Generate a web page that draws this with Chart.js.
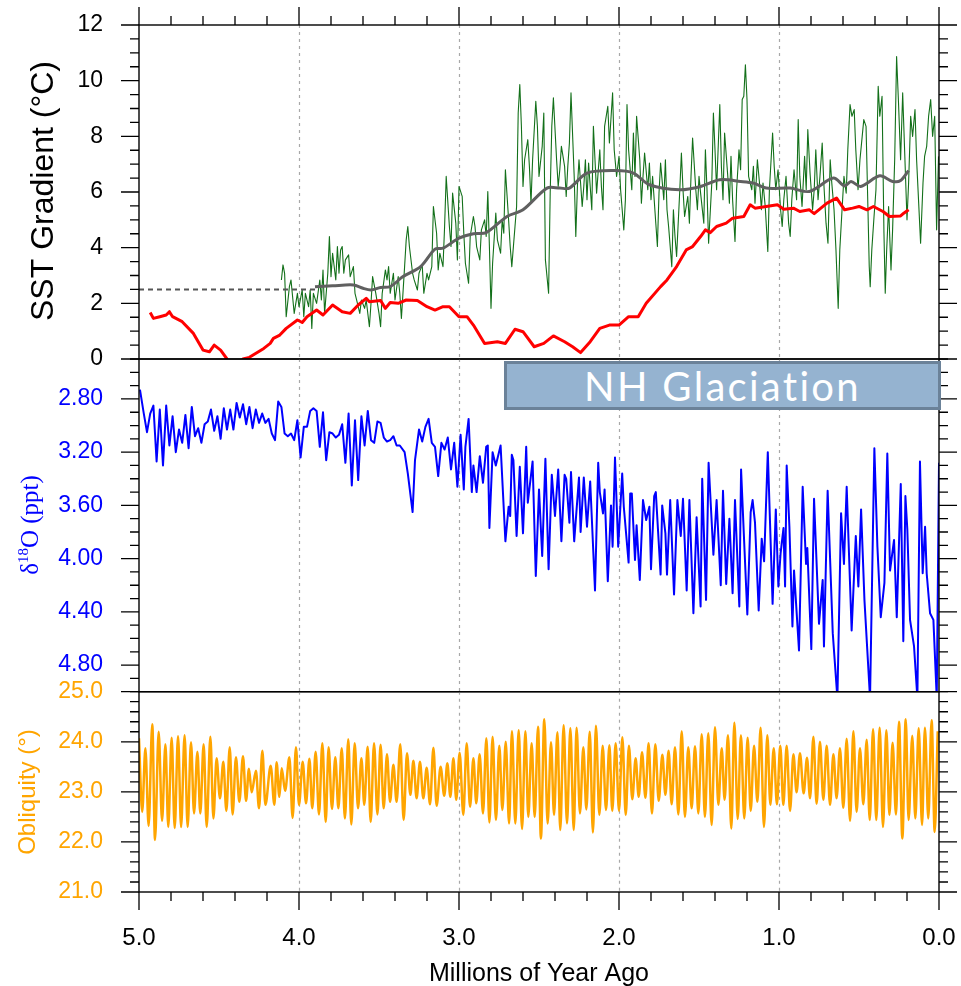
<!DOCTYPE html>
<html>
<head>
<meta charset="utf-8">
<title>SST gradient, d18O and obliquity, 5 Ma to present</title>
<script src="https://cdn.jsdelivr.net/npm/chart.js@4.4.1/dist/chart.umd.min.js"></script>
<style>
  html, body { margin: 0; padding: 0; background: #fff; }
  #page { position: relative; width: 961px; height: 986px; overflow: hidden; }
  #page canvas { position: absolute; left: 0; }
  #nh {
    position: absolute; left: 504px; top: 361px; width: 431px; height: 43px;
    border: 3px solid #6b8299; background: #95b3d0; color: #fff;
    font: 40px Lato, "Open Sans", sans-serif; letter-spacing: 2.3px;
    text-align: center; line-height: 45px; z-index: 5;
  }
</style>
</head>
<body>
<div id="page">
  <canvas id="sstChart" width="961" height="372" style="top:0px"></canvas>
  <canvas id="d18oChart" width="961" height="352" style="top:348px"></canvas>
  <canvas id="oblChart" width="961" height="316" style="top:670px"></canvas>
  <div id="nh">NH Glaciation</div>
</div>
<script>
// --- tick labels ---
const ageTicks = [5, 4, 3, 2, 1, 0];
const sstTicks = [0, 2, 4, 6, 8, 10, 12];
const d18oTicks = [2.8, 3.2, 3.6, 4.0, 4.4, 4.8];
const oblTicks = [21, 22, 23, 24, 25];

// --- SST gradient (top panel), ages in Ma ---
const redAge = [4.93,4.91,4.87,4.83,4.81,4.79,4.73,4.66,4.60,4.56,
  4.53,4.49,4.45,4.42,4.38,4.35,4.31,4.22,4.18,4.16,
  4.12,4.08,4.01,3.98,3.95,3.89,3.85,3.79,3.73,3.68,
  3.63,3.58,3.56,3.49,3.46,3.43,3.38,3.33,3.26,3.20,
  3.15,3.10,3.06,3.00,2.95,2.91,2.84,2.76,2.71,2.65,
  2.60,2.53,2.47,2.41,2.34,2.29,2.24,2.18,2.12,2.06,
  2.00,1.94,1.88,1.83,1.74,1.70,1.64,1.58,1.54,1.49,
  1.46,1.43,1.39,1.33,1.29,1.22,1.18,1.15,1.08,1.01,
  0.97,0.91,0.87,0.81,0.78,0.70,0.64,0.59,0.54,0.50,
  0.45,0.41,0.35,0.31,0.24,0.22,0.19];
const redSst = [1.67,1.46,1.52,1.58,1.70,1.52,1.34,0.92,0.32,0.26,
  0.50,0.32,0.00,-0.30,-0.30,0.00,0.06,0.38,0.56,0.74,
  0.86,1.10,1.40,1.31,1.52,1.76,1.58,1.94,1.70,1.64,
  1.94,2.18,2.06,2.10,1.82,2.03,2.00,2.12,2.10,1.88,
  1.76,1.88,1.88,1.52,1.52,1.22,0.56,0.62,0.56,1.07,
  0.98,0.44,0.56,0.83,0.62,0.44,0.23,0.62,1.10,1.22,
  1.22,1.52,1.52,2.00,2.60,2.84,3.32,3.92,4.04,4.40,
  4.64,4.54,4.76,4.88,5.06,5.12,5.54,5.42,5.48,5.54,
  5.38,5.42,5.30,5.36,5.22,5.60,5.78,5.36,5.42,5.48,
  5.36,5.48,5.30,5.12,5.14,5.24,5.36];

const grayAge = [3.90,3.79,3.66,3.60,3.55,3.49,3.43,3.35,3.24,3.15,
  3.10,3.00,2.91,2.83,2.70,2.60,2.45,2.37,2.31,2.20,
  2.02,1.91,1.81,1.62,1.49,1.37,1.24,1.16,1.08,0.93,
  0.81,0.66,0.59,0.55,0.49,0.37,0.29,0.24,0.19];
const graySst = [2.60,2.63,2.66,2.54,2.48,2.57,2.60,2.96,3.32,3.95,
  3.98,4.34,4.50,4.54,5.12,5.36,6.14,6.14,6.14,6.68,
  6.77,6.68,6.26,6.08,6.20,6.44,6.38,6.32,6.14,6.14,
  6.02,6.50,6.22,6.38,6.20,6.58,6.38,6.41,6.77];

const dashAge = [5.0, 3.90];
const dashSst = [2.5, 2.5];

const greenAge = [4.11,4.10,4.09,4.08,4.06,4.05,4.03,4.01,4.00,3.98,
  3.97,3.96,3.94,3.93,3.92,3.91,3.89,3.87,3.86,3.85,
  3.84,3.82,3.81,3.80,3.79,3.77,3.76,3.75,3.74,3.73,
  3.72,3.71,3.69,3.68,3.66,3.65,3.64,3.62,3.61,3.59,
  3.58,3.56,3.55,3.54,3.52,3.50,3.49,3.48,3.46,3.45,
  3.44,3.43,3.41,3.40,3.38,3.37,3.36,3.34,3.33,3.32,
  3.31,3.29,3.28,3.26,3.25,3.23,3.22,3.20,3.19,3.17,
  3.16,3.14,3.13,3.12,3.10,3.09,3.08,3.06,3.05,3.04,
  3.02,3.01,3.00,2.98,2.97,2.96,2.94,2.93,2.91,2.90,
  2.89,2.87,2.86,2.84,2.83,2.82,2.81,2.80,2.79,2.77,
  2.76,2.74,2.73,2.72,2.71,2.69,2.68,2.67,2.65,2.64,
  2.63,2.62,2.61,2.60,2.59,2.57,2.56,2.55,2.54,2.52,
  2.51,2.50,2.48,2.47,2.46,2.44,2.43,2.42,2.41,2.39,
  2.38,2.37,2.36,2.34,2.33,2.32,2.31,2.30,2.28,2.27,
  2.26,2.25,2.23,2.22,2.21,2.20,2.19,2.17,2.16,2.15,
  2.14,2.12,2.11,2.10,2.09,2.07,2.06,
  2.04,2.03,2.015,2.00,1.99,1.97,1.96,1.95,1.94,1.92,
  1.91,1.90,1.89,1.87,1.86,1.85,1.84,1.82,1.81,1.80,
  1.79,1.77,1.76,1.75,1.74,1.72,1.71,1.70,1.69,1.67,
  1.66,1.65,1.64,1.62,1.61,1.60,1.59,1.57,1.56,1.55,
  1.54,1.52,1.51,1.50,1.49,1.47,1.46,1.45,1.44,1.42,
  1.41,1.40,1.39,1.37,1.36,1.35,1.34,1.32,1.31,1.30,
  1.29,1.275,1.265,1.25,1.24,1.23,1.22,1.21,1.20,1.19,
  1.17,1.16,1.15,1.135,1.12,1.11,1.10,1.086,1.07,1.06,
  1.04,1.03,1.02,1.006,0.99,0.98,0.97,0.956,0.94,0.93,
  0.92,0.906,0.89,0.88,0.87,0.856,0.84,0.83,0.82,0.806,
  0.79,0.78,0.77,0.756,0.744,0.73,0.72,0.706,0.694,0.68,
  0.67,0.656,0.644,0.63,0.62,0.606,0.594,0.58,0.57,0.556,
  0.544,0.53,0.52,0.506,0.494,0.48,0.47,0.456,0.444,0.436,
  0.43,0.42,0.406,0.394,0.38,0.37,0.356,0.344,0.336,0.327,
  0.315,0.30,0.29,0.277,0.265,0.253,0.24,0.227,0.215,0.20,
  0.19,0.177,0.165,0.15,0.14,0.127,0.115,0.10,0.09,0.077,
  0.065,0.052,0.04,0.027,0.015,0.003];
const greenSst = [2.84,3.38,3.08,1.52,2.60,2.84,1.64,2.36,1.88,2.48,
  1.52,2.36,1.88,2.48,1.10,2.36,2.00,2.84,2.12,3.20,
  1.64,3.08,4.40,2.96,3.80,2.84,4.04,3.08,3.92,4.04,
  3.08,3.56,3.74,2.96,3.32,2.36,2.12,1.64,2.12,1.82,
  2.12,1.16,2.00,2.96,2.36,1.64,1.16,2.36,3.20,2.84,
  3.32,2.36,3.08,2.12,2.96,2.36,1.46,3.32,4.28,4.76,
  4.04,3.08,2.84,2.48,3.08,3.38,2.36,3.08,2.84,3.32,
  5.48,4.52,3.20,3.80,3.32,4.76,6.56,4.76,4.04,5.96,
  4.88,3.56,6.20,5.84,4.52,3.44,2.72,4.40,5.12,4.76,
  4.04,3.56,4.64,5.00,4.40,6.02,4.04,1.82,3.44,5.24,
  4.28,3.80,5.00,4.52,6.80,5.00,4.04,3.32,4.76,5.48,
  8.84,9.86,8.36,6.20,7.16,7.88,6.92,5.60,7.16,9.26,
  8.36,6.56,7.64,8.84,3.56,2.36,5.96,8.36,9.38,7.16,
  6.20,6.80,7.64,6.92,5.84,6.92,7.76,9.56,6.56,4.40,
  6.20,7.16,5.48,6.20,7.16,5.72,7.04,5.36,8.36,7.16,
  5.96,7.52,6.20,5.36,8.36,9.08,7.76,
  9.56,7.52,6.56,7.28,6.08,4.64,5.72,9.14,7.52,6.08,
  8.12,6.56,8.72,7.16,5.60,6.56,7.40,6.08,7.04,5.72,
  6.56,4.88,4.04,5.96,7.04,5.72,7.16,5.36,4.76,3.32,
  5.36,4.40,3.68,6.08,7.40,6.08,5.12,5.84,4.88,6.56,
  7.94,6.08,5.36,6.56,5.96,4.88,7.52,6.08,4.16,6.32,
  8.84,7.52,6.08,9.14,6.92,5.72,8.12,6.56,5.60,7.28,
  5.72,4.22,6.08,7.52,6.80,9.32,9.44,10.57,9.32,6.56,
  6.08,6.92,5.60,7.16,6.20,5.36,6.32,5.48,3.86,6.08,
  8.12,6.92,6.08,6.80,5.36,4.76,5.72,6.56,4.88,4.40,
  5.72,6.80,5.72,8.60,6.56,5.48,7.28,6.08,8.24,6.68,
  5.36,6.08,7.52,5.72,6.56,7.76,6.32,4.88,4.16,7.16,
  6.32,5.36,3.92,1.82,3.92,5.36,6.56,5.96,7.52,9.14,
  8.72,8.96,7.52,6.08,7.16,8.00,8.60,8.36,5.36,3.32,
  2.60,3.92,5.12,6.08,9.80,8.72,9.44,4.52,2.36,3.92,
  5.48,3.20,4.64,7.16,10.87,9.20,7.16,9.56,7.52,5.00,
  6.32,8.72,8.00,8.96,7.16,5.60,4.16,6.32,7.28,7.64,
  8.72,9.32,8.00,8.72,4.64,7.28];

// --- benthic d18O (middle panel) ---
const d18oAge = [4.994,4.97,4.95,4.93,4.91,4.89,4.87,4.85,4.83,4.81,
  4.79,4.77,4.75,4.73,4.71,4.69,4.67,4.65,4.63,4.61,
  4.59,4.57,4.55,4.53,4.51,4.49,4.47,4.45,4.43,4.41,
  4.39,4.37,4.35,4.33,4.31,4.29,4.27,4.25,4.23,4.21,
  4.19,4.17,4.15,4.13,4.11,4.09,4.07,4.05,4.03,4.01,
  3.99,3.97,3.95,3.93,3.91,3.89,3.87,3.85,3.83,3.81,
  3.79,3.77,3.75,3.73,3.71,3.69,3.67,3.65,3.63,3.61,
  3.59,3.57,3.55,3.53,3.51,3.49,3.47,3.45,3.43,3.41,
  3.39,3.37,3.34,3.32,3.29,3.275,3.25,3.23,3.21,3.19,
  3.17,3.15,3.13,3.11,3.09,3.07,3.05,3.03,3.01,2.99,
  2.97,2.96,2.94,2.92,2.91,2.89,2.87,2.85,2.83,2.82,
  2.81,2.79,2.77,2.74,2.71,2.69,2.68,2.67,2.66,2.64,
  2.62,2.60,2.58,2.57,2.54,2.52,2.50,2.48,2.46,2.44,
  2.42,2.40,2.38,2.36,2.34,2.33,2.31,2.30,2.28,2.25,
  2.24,2.22,2.20,2.18,2.15,2.13,2.12,2.10,2.09,2.07,
  2.05,2.04,2.025,2.005,1.98,1.97,1.94,1.93,1.92,1.90,
  1.89,1.87,1.85,1.83,1.81,1.80,1.78,1.77,1.74,1.73,
  1.71,1.70,1.68,1.656,1.635,1.614,1.60,1.577,1.56,1.535,
  1.515,1.49,1.48,1.456,1.44,1.41,1.39,1.364,1.35,1.33,
  1.31,1.29,1.275,1.248,1.237,1.22,1.198,1.177,1.165,1.15,
  1.127,1.108,1.093,1.07,1.04,1.02,1.004,0.99,0.972,0.962,
  0.952,0.935,0.916,0.906,0.875,0.852,0.831,0.823,0.798,0.781,
  0.75,0.727,0.719,0.696,0.664,0.635,0.612,0.594,0.577,0.546,
  0.52,0.504,0.487,0.466,0.431,0.404,0.385,0.364,0.341,0.323,
  0.306,0.281,0.264,0.239,0.223,0.21,0.198,0.181,0.156,0.135,
  0.119,0.102,0.087,0.077,0.056,0.035,0.014,0.0];
const d18o = [2.73,2.91,3.05,2.91,2.85,3.27,2.88,3.30,2.85,3.15,
  2.93,3.20,3.03,3.13,2.92,3.17,2.86,3.08,3.02,3.13,
  2.99,2.97,2.88,3.04,2.93,3.10,2.87,3.03,2.88,3.03,
  2.83,2.94,2.84,2.99,2.86,3.02,2.88,2.98,2.91,2.98,
  2.95,3.06,3.11,2.82,2.86,3.06,3.08,3.06,3.11,2.96,
  3.24,3.01,3.01,2.89,2.87,2.89,3.16,2.90,3.26,3.05,
  3.06,3.09,3.07,2.99,3.28,2.91,3.45,2.96,3.41,2.93,
  3.15,2.89,3.11,3.13,2.97,2.98,3.09,3.12,3.11,3.08,
  3.15,3.15,3.20,3.36,3.65,3.26,3.03,3.12,3.01,2.95,
  3.13,3.16,3.38,3.13,3.18,3.09,3.33,3.13,3.46,3.07,
  3.48,3.16,2.95,3.50,3.30,3.50,3.23,3.43,3.16,3.15,
  3.77,3.20,3.30,3.15,3.87,3.61,3.68,3.22,3.26,3.83,
  3.31,3.81,3.16,3.58,3.27,4.13,3.48,3.98,3.25,4.08,
  3.37,3.68,3.33,3.87,3.37,3.40,3.73,3.35,3.87,3.39,
  3.80,3.39,3.76,3.42,4.24,3.28,3.50,3.66,3.48,4.17,
  3.60,3.91,3.24,3.91,3.36,3.61,4.03,3.51,3.51,4.01,
  3.75,4.16,3.56,3.71,3.61,4.08,3.53,3.50,4.12,3.60,
  3.81,4.12,3.56,4.27,3.56,3.83,3.55,4.24,3.56,4.41,
  3.69,4.36,3.40,4.31,3.28,3.97,3.56,4.20,3.49,4.19,
  3.70,4.26,3.56,4.36,3.33,3.81,4.42,3.65,3.56,3.73,
  4.39,3.85,4.02,3.20,4.34,3.63,4.21,3.96,3.77,4.21,
  3.30,3.76,4.51,4.09,4.69,3.46,4.04,3.92,4.68,3.55,
  4.49,4.16,4.66,3.49,4.56,5.05,3.66,4.04,3.46,4.54,
  3.83,4.21,3.63,4.31,5.05,3.17,3.91,4.44,4.18,3.21,
  4.09,3.86,4.44,3.44,4.62,3.53,3.78,4.46,4.66,5.05,
  3.27,4.11,3.76,4.11,4.41,4.46,5.05,3.28];

// --- obliquity (bottom panel), successive maxima and minima ---
const oblAge = [5.00,4.98,4.96,4.94,4.917,4.90,4.877,4.856,4.835,4.817,
  4.796,4.777,4.756,4.737,4.715,4.696,4.675,4.656,4.635,4.617,
  4.596,4.577,4.554,4.535,4.515,4.494,4.473,4.454,4.433,4.415,
  4.394,4.373,4.350,4.331,4.313,4.296,4.269,4.250,4.229,4.210,
  4.177,4.154,4.140,4.123,4.108,4.087,4.060,4.040,4.019,4.000,
  3.977,3.956,3.935,3.917,3.896,3.875,3.854,3.833,3.815,3.794,
  3.773,3.754,3.733,3.713,3.692,3.673,3.652,3.631,3.610,3.592,
  3.571,3.552,3.531,3.510,3.490,3.471,3.450,3.431,3.410,3.390,
  3.367,3.346,3.325,3.304,3.285,3.265,3.244,3.223,3.202,3.181,
  3.160,3.140,3.115,3.092,3.073,3.054,3.035,3.017,2.996,2.973,
  2.952,2.931,2.910,2.892,2.871,2.850,2.829,2.810,2.790,2.769,
  2.748,2.729,2.708,2.687,2.669,2.648,2.627,2.606,2.585,2.567,
  2.546,2.527,2.506,2.488,2.467,2.446,2.425,2.406,2.385,2.367,
  2.346,2.325,2.304,2.283,2.265,2.244,2.223,2.204,2.183,2.163,
  2.144,2.123,2.102,2.081,2.060,2.042,2.021,2.000,1.979,1.958,
  1.938,1.917,1.896,1.877,1.856,1.835,1.815,1.794,1.773,1.752,
  1.729,1.710,1.690,1.671,1.650,1.629,1.608,1.588,1.567,1.546,
  1.525,1.504,1.483,1.463,1.442,1.421,1.400,1.379,1.358,1.340,
  1.319,1.298,1.279,1.258,1.238,1.217,1.196,1.177,1.156,1.135,
  1.115,1.094,1.073,1.054,1.033,1.013,0.992,0.973,0.952,0.931,
  0.910,0.890,0.869,0.846,0.825,0.806,0.785,0.765,0.744,0.723,
  0.702,0.681,0.660,0.640,0.619,0.598,0.577,0.556,0.535,0.515,
  0.494,0.473,0.452,0.433,0.412,0.392,0.371,0.350,0.329,0.310,
  0.290,0.269,0.250,0.229,0.208,0.190,0.167,0.148,0.127,0.106,
  0.088,0.067,0.046,0.027,0.008];
const obliquity = [24.07,22.60,23.87,22.32,24.35,22.04,24.20,22.42,23.95,22.30,
  24.08,22.28,24.11,22.30,24.13,22.30,23.99,22.57,23.80,22.57,
  23.95,22.30,24.10,22.47,23.67,22.87,23.60,22.62,23.89,22.55,
  23.69,22.80,23.71,22.82,23.46,22.99,23.42,22.67,23.82,22.74,
  23.52,22.74,23.59,22.90,23.47,23.02,23.69,22.48,23.89,22.74,
  23.60,22.77,23.66,22.67,23.80,22.55,23.97,22.40,23.89,22.66,
  23.69,22.67,23.87,22.47,24.05,22.35,23.97,22.67,23.67,22.74,
  23.90,22.40,23.97,22.55,23.94,22.67,23.75,22.80,23.54,22.80,
  23.95,22.44,23.77,22.94,23.62,22.87,23.60,22.87,23.48,22.75,
  23.88,22.72,23.50,22.92,23.57,22.90,23.67,22.84,23.78,22.54,
  23.97,22.70,23.67,22.77,23.75,22.57,24.07,22.39,24.10,22.44,
  23.92,22.64,24.00,22.37,24.21,22.37,24.23,22.26,24.21,22.50,
  23.97,22.50,24.30,22.07,24.45,22.37,23.99,22.54,24.19,22.24,
  24.33,22.37,24.27,22.24,24.28,22.57,23.89,22.65,24.20,22.19,
  24.32,22.54,23.92,22.64,23.93,22.62,23.97,22.62,24.09,22.54,
  23.92,22.85,23.67,22.90,23.79,22.88,23.97,22.57,23.95,22.82,
  23.74,22.94,23.82,22.75,23.89,22.55,24.21,22.50,23.89,22.67,
  23.91,22.57,24.15,22.50,24.17,22.34,24.29,22.74,23.87,22.84,
  24.13,22.27,24.38,22.46,24.13,22.47,24.08,22.62,23.92,22.80,
  24.28,22.30,24.13,22.74,23.87,22.75,23.92,22.74,23.92,22.62,
  23.75,22.99,23.77,22.97,23.68,22.87,24.10,22.76,24.00,22.84,
  23.92,22.74,23.75,22.87,23.87,22.68,24.06,22.42,24.21,22.60,
  23.87,22.75,24.04,22.44,24.25,22.44,24.28,22.30,24.23,22.54,
  23.98,22.55,24.40,22.07,24.45,22.44,24.12,22.47,24.27,22.34,
  24.28,22.47,24.43,22.20,24.21];

const SANS = "'Liberation Sans', Arial, Helvetica, sans-serif";
const SERIF = "'Liberation Serif', 'Times New Roman', serif";
Chart.defaults.font.family = SANS;

function pts(ages, vals) {
  return ages.map((a, i) => ({ x: a, y: vals[i] }));
}

function range(from, to, step) {
  const out = [];
  for (let v = from; v <= to + 1e-9; v += step) out.push(Math.round(v * 1000) / 1000);
  return out;
}

const xMinor = range(0, 5, 0.2);

function fixY(s) {
  s.width = 139;
  s.paddingTop = s.paddingBottom = s.paddingLeft = s.paddingRight = 0;
}

function hiddenX() {
  return { type: 'linear', min: 0, max: 5, reverse: true, display: false };
}

// frame, outward tick marks, dashed verticals and axis titles (NCL look)
function decor(opts) {
  return {
    id: 'decor',
    beforeDatasetsDraw(chart) {
      const { ctx, chartArea: a, scales: { x } } = chart;
      ctx.save();
      ctx.strokeStyle = '#a8a8a8';
      ctx.lineWidth = 1.2;
      ctx.setLineDash([3, 4]);
      [1, 2, 3, 4].forEach(v => {
        const px = Math.round(x.getPixelForValue(v)) + 0.5;
        ctx.beginPath();
        ctx.moveTo(px, a.top);
        ctx.lineTo(px, a.bottom);
        ctx.stroke();
      });
      ctx.restore();
    },
    afterDatasetsDraw(chart) {
      const { ctx, chartArea: a, scales: { x, y } } = chart;
      ctx.save();
      ctx.strokeStyle = '#000';
      ctx.lineWidth = 1.4;
      ctx.strokeRect(a.left, a.top, a.right - a.left, a.bottom - a.top);

      ctx.lineWidth = 1.3;
      ctx.beginPath();
      opts.yMinor.forEach(v => {
        const py = y.getPixelForValue(v);
        const len = opts.yMajor.some(m => Math.abs(m - v) < 1e-6) ? 18 : 9;
        ctx.moveTo(a.left - len, py); ctx.lineTo(a.left, py);
        ctx.moveTo(a.right, py); ctx.lineTo(a.right + len, py);
      });
      if (opts.xEdge) {
        const edge = opts.xEdge === 'top' ? a.top : a.bottom;
        const dir = opts.xEdge === 'top' ? -1 : 1;
        xMinor.forEach(v => {
          const px = x.getPixelForValue(v);
          const len = Math.abs(v - Math.round(v)) < 1e-6 ? 18 : 9;
          ctx.moveTo(px, edge); ctx.lineTo(px, edge + dir * len);
        });
      }
      ctx.stroke();
      opts.title(ctx);
      ctx.restore();
    }
  };
}

function rotated(ctx, x, y, fn) {
  ctx.save();
  ctx.translate(x, y);
  ctx.rotate(-Math.PI / 2);
  fn();
  ctx.restore();
}

function makeChart(id, cfg) {
  return new Chart(document.getElementById(id), {
    type: 'line',
    data: { datasets: cfg.datasets },
    options: {
      responsive: false,
      animation: false,
      events: [],
      layout: { padding: cfg.padding },
      plugins: { legend: { display: false }, tooltip: { enabled: false } },
      elements: { point: { radius: 0 }, line: { borderJoinStyle: 'round' } },
      scales: { x: cfg.x, y: cfg.y }
    },
    plugins: [decor(cfg.decor)]
  });
}

// --- top: SST gradient ---
makeChart('sstChart', {
  padding: { top: 25, bottom: 13, left: 0, right: 22 },
  datasets: [
    { data: pts(redAge, redSst), borderColor: '#ff0000', borderWidth: 3, tension: 0 },
    { data: pts(grayAge, graySst), borderColor: '#606060', borderWidth: 3, tension: 0.3 },
    { data: pts(dashAge, dashSst), borderColor: '#555555', borderWidth: 2, borderDash: [5, 4] },
    { data: pts(greenAge, greenSst), borderColor: '#13701a', borderWidth: 1.1, tension: 0 }
  ],
  x: hiddenX(),
  y: {
    type: 'linear', min: 0, max: 12,
    afterFit: fixY,
    afterBuildTicks: s => { s.ticks = sstTicks.map(v => ({ value: v })); },
    grid: { display: false, drawTicks: false },
    border: { display: false },
    ticks: { padding: 36, color: '#000', font: { size: 23 }, callback: v => String(v) }
  },
  decor: {
    yMajor: sstTicks, yMinor: range(0, 12, 0.5), xEdge: 'top',
    title(ctx) {
      rotated(ctx, 53, 191, () => {
        ctx.fillStyle = '#000';
        ctx.font = '32px ' + SANS;
        ctx.textAlign = 'center';
        ctx.textBaseline = 'alphabetic';
        ctx.fillText('SST Gradient (°C)', 0, 0);
      });
    }
  }
});

// --- middle: d18O ---
makeChart('d18oChart', {
  padding: { top: 11, bottom: 8.3, left: 0, right: 22 },
  datasets: [
    { data: pts(d18oAge, d18o), borderColor: '#0000ff', borderWidth: 2, tension: 0 }
  ],
  x: hiddenX(),
  y: {
    type: 'linear', min: 2.5, max: 5.0, reverse: true,
    afterFit: fixY,
    afterBuildTicks: s => { s.ticks = d18oTicks.map(v => ({ value: v })); },
    grid: { display: false, drawTicks: false },
    border: { display: false },
    ticks: { padding: 36, color: '#0000ff', font: { size: 23 }, callback: v => v.toFixed(2) }
  },
  decor: {
    yMajor: d18oTicks, yMinor: range(2.5, 5.0, 0.1), xEdge: null,
    title(ctx) {
      rotated(ctx, 38, 525 - 348, () => {
        ctx.fillStyle = '#0000ff';
        ctx.textBaseline = 'alphabetic';
        ctx.textAlign = 'left';
        const big = '25px ' + SERIF, small = '15px ' + SERIF;
        ctx.font = big; const w1 = ctx.measureText('δ').width;
        ctx.font = small; const w2 = ctx.measureText('18').width;
        ctx.font = big; const w3 = ctx.measureText('O (ppt)').width;
        let px = -(w1 + w2 + w3) / 2;
        ctx.font = big; ctx.fillText('δ', px, 0); px += w1;
        ctx.font = small; ctx.fillText('18', px, -10); px += w2;
        ctx.font = big; ctx.fillText('O (ppt)', px, 0);
      });
    }
  }
});

// --- bottom: obliquity ---
makeChart('oblChart', {
  padding: { top: 21.7, bottom: 0, left: 0, right: 22 },
  datasets: [
    { data: pts(oblAge, obliquity), borderColor: '#ffa500', borderWidth: 2.5, cubicInterpolationMode: 'monotone' }
  ],
  x: {
    type: 'linear', min: 0, max: 5, reverse: true,
    afterFit: s => { s.height = 94; s.paddingLeft = s.paddingRight = s.paddingTop = s.paddingBottom = 0; },
    afterBuildTicks: s => { s.ticks = ageTicks.map(v => ({ value: v })); },
    grid: { display: false, drawTicks: false },
    border: { display: false },
    ticks: { padding: 31.6, color: '#000', font: { size: 24 }, autoSkip: false, maxRotation: 0, callback: v => v.toFixed(1) }
  },
  y: {
    type: 'linear', min: 21, max: 25,
    afterFit: fixY,
    afterBuildTicks: s => { s.ticks = oblTicks.map(v => ({ value: v })); },
    grid: { display: false, drawTicks: false },
    border: { display: false },
    ticks: { padding: 36, color: '#ffa500', font: { size: 23 }, callback: v => v.toFixed(1) }
  },
  decor: {
    yMajor: oblTicks, yMinor: range(21, 25, 0.2), xEdge: 'bottom',
    title(ctx) {
      rotated(ctx, 35, 792 - 670, () => {
        ctx.fillStyle = '#ffa500';
        ctx.font = '24px ' + SANS;
        ctx.textAlign = 'center';
        ctx.textBaseline = 'alphabetic';
        ctx.fillText('Obliquity (°)', 0, 0);
      });
      ctx.fillStyle = '#000';
      ctx.font = '25px ' + SANS;
      ctx.textAlign = 'center';
      ctx.textBaseline = 'alphabetic';
      ctx.fillText('Millions of Year Ago', 539, 981 - 670);
    }
  }
});
</script>
</body>
</html>
